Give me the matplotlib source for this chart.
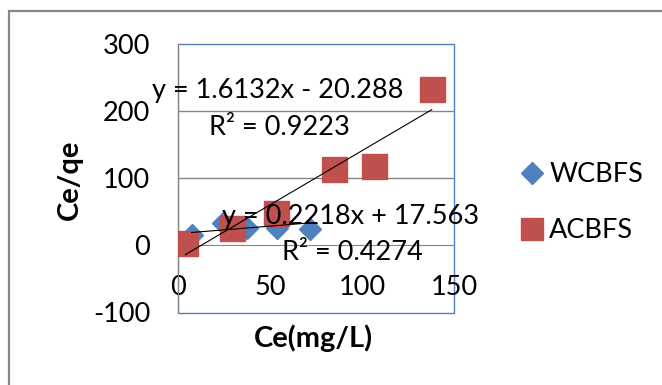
import numpy as np
import matplotlib
matplotlib.use("Agg")
from matplotlib import pyplot as plt
from matplotlib.patches import Rectangle

#data -------------------------------------------------
wcbfsX = [7.4, 24.6, 37.3, 53.6, 71.7]
wcbfsY = [15.5, 33, 25.5, 25.5, 24]
acbfsX = [4, 29.3, 53.3, 85, 106.3, 137.9]
acbfsY = [3.1, 26.4, 48.7, 114.3, 118.8, 233]

#trend line coefficients (slope, intercept) as printed on the chart
wcbfsFit = [0.2218, 17.563]
acbfsFit = [1.6132, -20.288]
wcbfsEq = ["y = 0.2218x + 17.563", "R\u00b2 = 0.4274"]
acbfsEq = ["y = 1.6132x - 20.288", "R\u00b2 = 0.9223"]

xTicks = [0, 50, 100, 150]
yTicks = [-100, 0, 100, 200, 300]

blue = "#4F81BD"
red = "#C0504D"
grid = "#868686"

plt.rcParams['font.family'] = ['Lato', 'DejaVu Sans']
plt.rcParams['axes.unicode_minus'] = False

W, H = 662, 385
fig = plt.figure(figsize=(W / 100, H / 100), dpi=100)
ax = fig.add_axes([178 / W, 1 - 312.5 / H, (454 - 178) / W, (312.5 - 44) / H])

#gridlines (0 is the x axis itself)
for g in yTicks[1:-1]:
	if g != 0:
		ax.axhline(g, color=grid, lw=1, zorder=1)

#markers
ax.plot(wcbfsX, wcbfsY, 'D', color=blue, markersize=11, label="WCBFS", zorder=3)
ax.plot(acbfsX, acbfsY, 's', color=red, markersize=18, label="ACBFS", zorder=4)

#trend lines over the range of each series
for xs, fit in [(wcbfsX, wcbfsFit), (acbfsX, acbfsFit)]:
	xl = np.array([min(xs), max(xs)])
	ax.plot(xl, fit[0] * xl + fit[1], color='black', lw=0.8, zorder=5)

#equation labels
fs = 19.5
ax.text(54.3, 230, acbfsEq[0], fontsize=fs, ha='center', va='center', zorder=6)
ax.text(54.9, 175, acbfsEq[1], fontsize=fs, ha='center', va='center', zorder=6)
ax.text(94, 42.4, wcbfsEq[0], fontsize=fs, ha='center', va='center', zorder=6, clip_on=False)
ax.text(94.6, -10.6, wcbfsEq[1], fontsize=fs, ha='center', va='center', zorder=6)

ax.set_xlim(0, 150)
ax.set_ylim(-100, 300)
ax.set_xticks(xTicks)
ax.set_yticks(yTicks)
ax.tick_params(axis='both', length=0, labelsize=fs, colors='black')
ax.tick_params(axis='x', pad=21)
ax.tick_params(axis='y', pad=20)

#x axis crosses at y = 0
for s in ['top', 'right']:
	ax.spines[s].set_visible(False)
ax.spines['bottom'].set_position(('data', 0))
ax.spines['bottom'].set_color(grid)
ax.spines['left'].set_color(grid)
ax.spines['bottom'].set_zorder(1)
ax.spines['left'].set_zorder(2)
ax.add_patch(Rectangle((0, 0), 1, 1, transform=ax.transAxes, fill=False,
	edgecolor=blue, lw=1, zorder=0.5, clip_on=False))

#axis titles
fig.text(313 / W, 1 - 338 / H, "Ce(mg/L)", fontsize=21, fontweight='bold', ha='center', va='center')
fig.text(70 / W, 1 - 180 / H, "Ce/qe", fontsize=21, fontweight='bold', ha='center', va='center', rotation=90)

leg = ax.legend(loc='upper left', bbox_to_anchor=(522 / W, 1 - 162 / H), bbox_transform=fig.transFigure,
	frameon=False, fontsize=fs, handlelength=0.75, handletextpad=0.25, labelspacing=1.15,
	borderpad=0, borderaxespad=0)
leg.legend_handles[1].set_markersize(16)

#outer chart border
fig.patches.append(Rectangle((9 / W, -0.1), 1.1, 1 - 11 / H + 0.1, transform=fig.transFigure,
	fill=False, edgecolor=grid, lw=1.6))

fig.savefig("out.png", dpi=100)
